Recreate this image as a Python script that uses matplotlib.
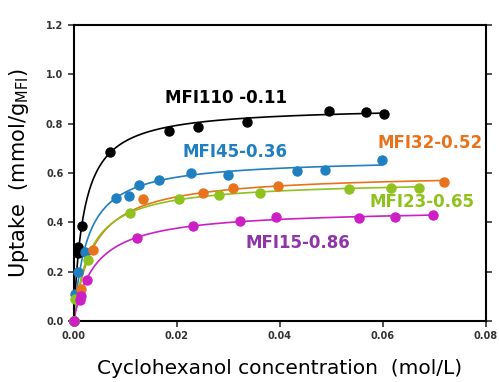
import numpy as np
import matplotlib
matplotlib.use("Agg")
import matplotlib.pyplot as plt

# cyclohexanol concentration (mol/L) and uptake (mmol/g)
mfi110_x = [0.0, 0.0008, 0.0009, 0.0016, 0.0071, 0.0185, 0.0242, 0.0337, 0.0496, 0.0567, 0.0603]
mfi110_y = [0.0, 0.275, 0.30, 0.385, 0.683, 0.771, 0.788, 0.808, 0.852, 0.849, 0.840]

mfi45_x = [0.0, 0.0002, 0.0008, 0.0021, 0.0083, 0.0108, 0.0126, 0.0165, 0.0228, 0.0300, 0.0433, 0.0488, 0.0598]
mfi45_y = [0.0, 0.11, 0.20, 0.28, 0.500, 0.505, 0.552, 0.572, 0.599, 0.592, 0.608, 0.613, 0.653]

mfi32_x = [0.0, 0.0014, 0.0038, 0.0134, 0.0250, 0.0310, 0.0396, 0.0718]
mfi32_y = [0.0, 0.13, 0.288, 0.495, 0.518, 0.538, 0.549, 0.563]

mfi23_x = [0.0, 0.0003, 0.0027, 0.0109, 0.0204, 0.0281, 0.0361, 0.0535, 0.0616, 0.0670]
mfi23_y = [0.0, 0.09, 0.247, 0.439, 0.494, 0.511, 0.520, 0.534, 0.538, 0.538]

mfi15_x = [0.0, 0.0012, 0.0014, 0.0025, 0.0122, 0.0231, 0.0322, 0.0393, 0.0553, 0.0624, 0.0698]
mfi15_y = [0.0, 0.085, 0.099, 0.166, 0.338, 0.383, 0.407, 0.421, 0.417, 0.421, 0.430]

# Langmuir fit parameters (qmax in mmol/g, K in L/mol), estimated from the drawn curves
qmax = [0.87, 0.66, 0.60, 0.57, 0.455]
k_lang = [514, 377, 260, 307, 237]

series_labels = ["MFI110 -0.11", "MFI45-0.36", "MFI32-0.52", "MFI23-0.65", "MFI15-0.86"]
point_colors = ["#000000", "#1f7fc1", "#e8731c", "#8fc21f", "#cc1fc4"]
text_colors = ["#000000", "#1f7fc1", "#e8731c", "#8fc21f", "#8e35a8"]
label_pos = [(0.0177, 0.905), (0.0212, 0.685), (0.0590, 0.720), (0.0573, 0.481), (0.0333, 0.316)]

fig = plt.figure(figsize=(4.99, 3.82), dpi=100)
ax = fig.add_axes([0.1477, 0.160, 0.8263, 0.7746])

all_x = [mfi110_x, mfi45_x, mfi32_x, mfi23_x, mfi15_x]
all_y = [mfi110_y, mfi45_y, mfi32_y, mfi23_y, mfi15_y]

for i in range(len(all_x)):
    xs, ys = all_x[i], all_y[i]
    pc = point_colors[i]
    cc = np.linspace(0, max(xs), 300)
    fit = qmax[i] * k_lang[i] * cc / (1 + k_lang[i] * cc)
    ax.plot(cc, fit, color=pc, lw=1.2, zorder=2)
    ax.plot(xs, ys, "o", color=pc, ms=6.5, mec=pc, zorder=3, clip_on=False)
    ax.text(label_pos[i][0], label_pos[i][1], series_labels[i], color=text_colors[i],
            fontsize=12, fontweight="bold", ha="left", va="center")

ax.set_xlim(0, 0.08)
ax.set_ylim(0, 1.2)
ax.set_xticks([0.0, 0.02, 0.04, 0.06, 0.08])
ax.set_xticklabels(["0.00", "0.02", "0.04", "0.06", "0.08"])
ax.set_yticks([0.0, 0.2, 0.4, 0.6, 0.8, 1.0, 1.2])
ax.set_yticklabels(["0.0", "0.2", "0.4", "0.6", "0.8", "1.0", "1.2"])
ax.tick_params(axis="both", labelsize=7, colors="#333333", width=1.2, length=4,
               direction="out")
for t in ax.get_xticklabels() + ax.get_yticklabels():
    t.set_fontweight("bold")
ax.tick_params(axis="y", right=True)
for s in ax.spines.values():
    s.set_linewidth(1.5)

ax.set_ylabel("Uptake  (mmol/g$_{\\mathrm{MFI}}$)", fontsize=15, labelpad=11)
ax.set_xlabel("Cyclohexanol concentration  (mol/L)", fontsize=14.5, labelpad=13)

fig.savefig("out.png", dpi=100)
